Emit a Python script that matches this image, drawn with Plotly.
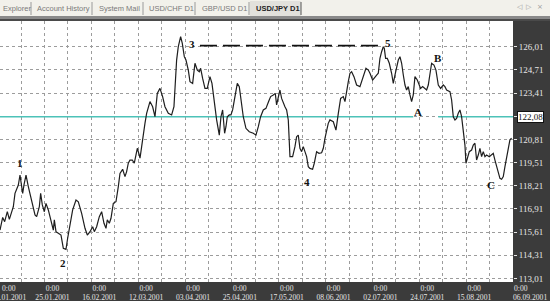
import plotly.graph_objects as go

# ---------------- data ----------------
# bar position (trading-day index, 0 = 03.01.2001) and close price of USD/JPY D1
bar_pos = [
    0.83, 1.74, 2.42, 3.33, 4.02, 4.81, 5.38, 5.95, 7.09, 7.66, 8.57, 9.02, 9.71, 10.50, 11.64,
    12.78, 13.35, 14.26, 14.71, 15.28, 15.97, 16.53, 17.33, 18.47, 19.04, 19.38, 19.95, 20.75,
    21.66, 22.45, 23.36, 23.93, 24.73, 25.64, 26.78, 27.57, 28.71, 29.85, 30.65, 31.56, 32.47,
    33.04, 33.83, 34.74, 35.54, 36.34, 37.02, 37.47, 38.16, 38.73, 39.52, 40.43, 41.23, 41.80,
    42.71, 43.51, 44.07, 44.64, 45.21, 46.01, 46.69, 47.26, 47.72, 48.40, 48.63, 49.20, 49.77,
    50.33, 50.90, 51.81,
    52.04, 52.95, 53.75, 54.54, 55.45, 56.36, 57.16, 58.30, 59.44, 60.23, 61.14, 61.71, 62.51,
    63.08, 63.76, 64.33, 65.13, 65.70, 66.61, 67.40, 68.20, 68.88, 69.34, 70.02, 70.82, 71.61,
    72.52, 73.21, 74.00, 74.80, 75.71, 76.28, 76.85, 77.53, 77.99, 78.44, 79.12, 79.69, 80.26,
    81.06, 81.86, 82.54, 83.34, 83.90, 84.81, 85.95, 87.32, 88.23, 89.03, 89.82, 90.73, 91.64,
    92.55, 93.24, 94.15, 94.83, 95.28, 95.85, 96.42, 96.99, 97.56, 98.13, 98.70, 99.27, 99.84,
    100.75, 101.54, 102.11, 102.68, 103.25, 103.82, 104.39, 104.96, 105.53, 106.10, 106.66,
    107.57, 108.14, 108.94, 109.74, 110.65, 111.22, 111.79, 112.35, 112.92, 113.49,
    114.64, 115.55, 115.78, 116.35, 117.14, 118.05, 118.62, 119.19, 119.76, 120.33, 120.90,
    121.69, 122.60, 123.74, 124.88, 125.79, 126.59, 127.16, 128.07, 128.86, 129.43, 130.00,
    130.57, 131.14, 131.71, 132.05, 132.50, 133.07, 133.76, 134.55, 135.12, 135.69, 136.26,
    136.83, 137.40, 137.97, 138.54, 139.11, 139.67, 140.24, 140.81, 141.38, 141.95, 142.52,
    143.32, 144.00, 144.45, 145.14, 145.71, 146.50, 147.07, 147.64, 148.21, 149.01, 149.69,
    150.49, 151.28, 152.19, 152.76, 153.33, 154.47, 155.04, 155.61, 156.18, 156.74, 157.31,
    157.88, 158.45, 159.02, 159.59, 159.93, 160.50, 161.07, 161.87, 162.43, 163.00, 163.57,
    164.14, 164.71, 165.28, 165.85, 166.42, 166.99, 167.90, 168.69, 169.26, 169.83, 170.40,
    170.97, 171.54, 172.11, 172.68, 173.25, 173.81, 174.38, 174.95, 175.52,
]
close = [
    115.72, 116.43, 116.19, 116.75, 116.32, 116.75, 117.03, 117.78, 118.25, 118.81, 117.78,
    118.25, 118.81, 118.16, 117.41, 116.57, 116.47, 117.03, 117.78, 117.13, 116.75, 117.22,
    116.85, 116.10, 115.72, 116.29, 115.63, 115.54, 115.44, 114.70, 114.64, 115.26, 116.10,
    116.85, 117.41, 117.31, 116.66, 115.82, 115.44, 115.63, 115.91, 115.63, 115.91, 116.47,
    116.75, 116.10, 115.82, 116.29, 116.10, 116.38, 117.22, 117.31, 118.16, 118.90, 119.13,
    118.72, 119.00, 119.47, 119.65, 119.65, 119.47, 119.93, 120.31, 119.93, 119.75, 120.40,
    121.15, 121.71, 122.27, 122.83,
    122.93, 122.64, 122.08, 123.39, 123.67, 123.21, 122.64, 122.27, 122.18, 122.64, 125.26,
    126.01, 126.57, 126.20, 125.45, 125.26, 124.70, 124.05, 123.95, 125.08, 124.70, 124.61,
    124.80, 124.23, 123.67, 123.67, 124.33, 123.95, 122.83, 121.90, 121.05, 122.08, 122.46,
    121.15, 121.52, 122.08, 122.18, 122.18, 122.46, 123.21, 123.95, 123.77, 122.83, 122.08,
    121.43, 121.24, 121.15, 121.05, 121.52, 122.08, 122.46, 122.55, 122.93, 123.21, 123.30,
    123.39, 122.74, 123.21, 123.58, 123.11, 122.83, 122.64, 122.46, 121.90, 119.84, 119.84,
    120.40, 120.96, 121.05, 120.31, 120.12, 120.40, 120.12, 119.84, 119.28, 119.18, 119.13,
    119.47, 120.12, 120.03, 120.06, 120.31, 120.87, 121.33, 121.71, 121.90,
    121.80, 121.33, 121.71, 122.27, 123.11, 123.21, 122.93, 123.39, 124.05, 124.52, 124.61,
    124.33, 123.86, 123.77, 124.42, 124.80, 124.70, 124.52, 124.14, 124.33, 124.42, 124.52,
    125.36, 125.73, 126.01, 125.92, 125.36, 125.36, 125.08, 124.52, 123.95, 124.42, 124.89,
    125.26, 125.45, 125.08, 124.42, 123.86, 123.58, 123.77, 123.30, 122.93, 123.30, 124.33,
    124.14, 123.86, 123.67, 123.77, 123.67, 123.58, 123.86, 124.61, 125.08, 124.98, 124.70,
    123.86, 123.67, 123.86, 123.77, 123.58, 123.49, 123.02, 122.08, 121.90, 121.99, 122.27,
    122.46, 122.08, 121.43, 120.49, 119.47, 119.84, 120.12, 120.21, 120.49, 120.59, 119.65,
    119.93, 120.31, 119.84, 120.12, 119.84, 119.93, 119.84, 119.93, 120.03, 119.65, 119.28,
    118.90, 118.62, 118.57, 118.72, 119.28, 119.84, 120.40, 120.78, 120.87,
]

# price scale levels and labels (right axis)
y_levels = [113.01, 114.31, 115.61, 116.91, 118.21, 119.51, 120.81, 122.11, 123.41, 124.71, 126.01]
y_tick_labels = ["113,01", "114,31", "115,61", "116,91", "118,21", "119,51", "120,81", "",
                 "123,41", "124,71", "126,01"]

# time scale: grid every 8 bars, labels every 16 bars
grid_bars = list(range(8, 177, 8))
date_labels = ["03.01.2001", "25.01.2001", "16.02.2001", "12.03.2001", "03.04.2001",
               "25.04.2001", "17.05.2001", "08.06.2001", "02.07.2001", "24.07.2001",
               "15.08.2001", "06.09.2001"]
label_bars = [0, 16, 32, 48, 64, 80, 96, 112, 128, 144, 160, 176]
time_label = "0:00"

# horizontal level line (cyan) with its gap around the "A" label
level_price = 122.08
level_label = "122,08"
level_segments = [(0.83, 141.94), (150.47, 176.0)]

# dashed line from wave 3 to wave 5
dash_price = 126.07
dash_bars = [69.11, 130.57]

# wave labels
wave_text = ["1", "2", "3", "4", "5", "A", "B", "C"]
wave_bar = [7.66, 22.24, 66.28, 105.54, 133.20, 143.64, 150.47, 168.46]
wave_price = [119.50, 113.89, 126.16, 118.43, 126.23, 122.36, 125.39, 118.25]

# terminal tabs
tab_names = ["Explorer", "Account History", "System Mail", "USD/CHF D1", "GBP/USD D1", "USD/JPY D1"]

# ---------------- layout constants ----------------
W, H = 550, 301
PL, PR, PT, PB = 0, 37, 21, 19
PW, PH = W - PL - PR, H - PT - PB
x_range = [0.83, 176.0]
y_range = [112.806, 127.452]


def px(xpix):
    return (xpix - PL) / PW


def py(ypix):
    return (H - PB - ypix) / PH


AXIS_BG = "#3b3b3b"
AXIS_TXT = "#e6e6e6"
GRID = "#9c9c9c"
AXIS_FONT = dict(family="Liberation Serif", size=7.6, color=AXIS_TXT)

fig = go.Figure()

# level line
lx, ly = [], []
for a, b in level_segments:
    lx += [a, b, None]
    ly += [level_price, level_price, None]
fig.add_trace(go.Scatter(x=lx, y=ly, mode="lines", line=dict(color="#4cc2b8", width=1.3),
                         hoverinfo="skip", connectgaps=False))

# dashed 3-5 line
fig.add_trace(go.Scatter(x=dash_bars, y=[dash_price, dash_price], mode="lines",
                         line=dict(color="#111111", width=1.6, dash="17px,6px"), hoverinfo="skip"))

# price line
fig.add_trace(go.Scatter(x=bar_pos, y=close, mode="lines",
                         line=dict(color="#1e1e1e", width=1.2), hoverinfo="skip"))

# axis tick labels: inner labels through the axis; first (cut off) and last handled as annotations
x_ticktext = []
for b in grid_bars:
    if b in label_bars[1:-1]:
        x_ticktext.append(time_label + "<br>" + date_labels[label_bars.index(b)])
    else:
        x_ticktext.append("")

fig.update_layout(
    width=W, height=H,
    margin=dict(l=PL, r=PR, t=PT, b=PB, pad=0),
    paper_bgcolor=AXIS_BG, plot_bgcolor="white",
    showlegend=False,
    xaxis=dict(range=x_range, tickvals=grid_bars, ticktext=x_ticktext, tickangle=0,
               showgrid=True, gridcolor=GRID, griddash="dot", gridwidth=1,
               zeroline=False, showline=False, ticks="", ticklabelstandoff=0,
               ticklabelshift=8, tickfont=AXIS_FONT),
    yaxis=dict(range=y_range, tickvals=y_levels, ticktext=y_tick_labels, side="right",
               showgrid=True, gridcolor=GRID, griddash="dot", gridwidth=1,
               zeroline=False, showline=False, ticks="outside", ticklen=3, tickcolor=AXIS_TXT,
               tickfont=dict(family="Liberation Serif", size=9, color=AXIS_TXT)),
)

shapes = []
annotations = []

# first (partly off the left edge, as in the terminal) and last date labels
annotations.append(dict(x=px(1), y=py(H - PB + 1), xref="paper", yref="paper",
                        text=time_label, showarrow=False, borderpad=0,
                        xanchor="left", yanchor="top", font=AXIS_FONT))
annotations.append(dict(x=px(27), y=py(H - PB + 10), xref="paper", yref="paper",
                        text=date_labels[0], showarrow=False, borderpad=0,
                        xanchor="right", yanchor="top", font=AXIS_FONT))
annotations.append(dict(x=px(513), y=py(H - PB + 1), xref="paper", yref="paper",
                        text=time_label, showarrow=False, borderpad=0,
                        xanchor="left", yanchor="top", font=AXIS_FONT))
annotations.append(dict(x=px(548), y=py(H - PB + 10), xref="paper", yref="paper",
                        text=date_labels[-1], showarrow=False, borderpad=0,
                        xanchor="right", yanchor="top", font=AXIS_FONT))

# level label box
annotations.append(dict(x=px(PW + 4), y=level_price, xref="paper", yref="y", text=level_label,
                        showarrow=False, xanchor="left", yanchor="middle",
                        bgcolor="white", bordercolor="#111111", borderwidth=1, borderpad=0,
                        font=dict(family="Liberation Serif", size=9, color="#111111")))

# wave labels
for t, b, p in zip(wave_text, wave_bar, wave_price):
    annotations.append(dict(x=b, y=p, xref="x", yref="y", text="<b>" + t + "</b>", showarrow=False,
                            xanchor="center", yanchor="middle",
                            font=dict(family="Liberation Serif", size=11, color="#111111")))

# tab bar
shapes.append(dict(type="rect", xref="paper", yref="paper", x0=px(0), x1=px(W), y0=py(16), y1=py(0),
                   fillcolor="#f2f1eb", line=dict(width=0), layer="above"))
shapes.append(dict(type="rect", xref="paper", yref="paper", x0=px(0), x1=px(W), y0=py(19), y1=py(16),
                   fillcolor="#8a8a8a", line=dict(width=0), layer="above"))
shapes.append(dict(type="rect", xref="paper", yref="paper", x0=px(0), x1=px(W), y0=py(PT), y1=py(19),
                   fillcolor="#4a4a4a", line=dict(width=0), layer="above"))
# selected tab
shapes.append(dict(type="rect", xref="paper", yref="paper", x0=px(250), x1=px(301), y0=py(16), y1=py(1),
                   fillcolor="#e2e1dc", line=dict(width=0), layer="above"))

tab_x = [1, 35, 97, 147, 200, 254]
sep_x = [31, 92, 143, 195, 249, 301]
for i, (name, tx) in enumerate(zip(tab_names, tab_x)):
    sel = i == len(tab_names) - 1
    annotations.append(dict(x=px(tx), y=py(8), xref="paper", yref="paper",
                            text=("<b>" + name + "</b>") if sel else name, showarrow=False,
                            xanchor="left", yanchor="middle",
                            font=dict(family="Liberation Sans", size=7.5,
                                      color="#222222" if sel else "#7a7a7a")))
for sx in sep_x:
    shapes.append(dict(type="line", xref="paper", yref="paper", x0=px(sx), x1=px(sx),
                       y0=py(15), y1=py(2), line=dict(color="#555555" if sx == 301 else "#9a9a9a", width=1),
                       layer="above"))
for sym, sx in zip(["◁", "▷", "×"], [520, 529, 540]):
    annotations.append(dict(x=px(sx), y=py(7), xref="paper", yref="paper", text=sym, showarrow=False,
                            xanchor="center", yanchor="middle",
                            font=dict(family="DejaVu Sans", size=7, color="#9a9a9a")))

fig.update_layout(shapes=shapes, annotations=annotations)
fig.write_html("out.html")
